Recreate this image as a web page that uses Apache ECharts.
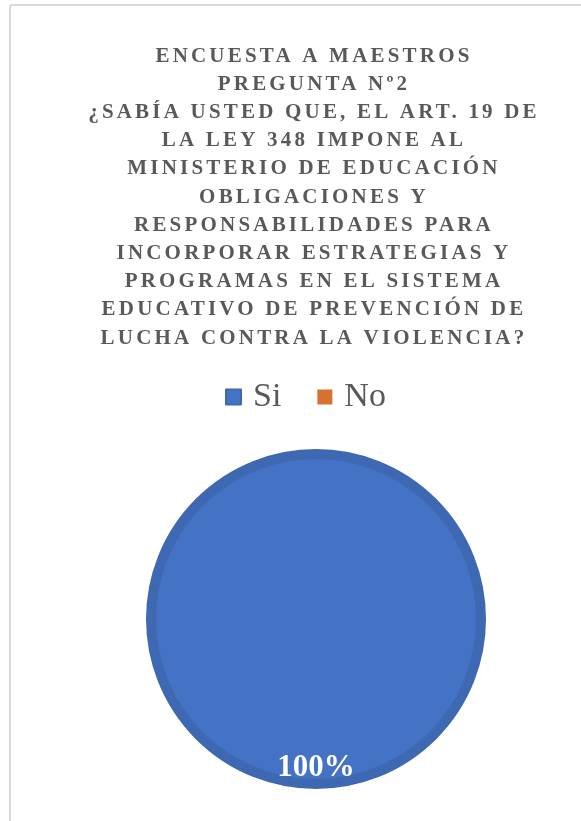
<!DOCTYPE html>
<html><head><meta charset="utf-8">
<script src="https://cdn.jsdelivr.net/npm/echarts@6/dist/echarts.min.js"></script>
<style>html,body{margin:0;padding:0;background:#fff}#c{width:581px;height:821px}</style>
</head><body><div id="c"></div>
<script>
const titleLines = [
  'ENCUESTA A MAESTROS',
  'PREGUNTA Nº2',
  '¿SABÍA USTED QUE, EL ART. 19 DE',
  'LA LEY 348 IMPONE AL',
  'MINISTERIO DE EDUCACIÓN',
  'OBLIGACIONES Y',
  'RESPONSABILIDADES PARA',
  'INCORPORAR ESTRATEGIAS Y',
  'PROGRAMAS EN EL SISTEMA',
  'EDUCATIVO DE PREVENCIÓN DE',
  'LUCHA CONTRA LA VIOLENCIA?'
];
const categories = ['Si', 'No'];
const values = [100, 0];
const colors = ['#4472c4', '#d7712f'];

// letter-spaced title lines, as in the original
const origFillText = CanvasRenderingContext2D.prototype.fillText;
CanvasRenderingContext2D.prototype.fillText = function (t, x, y, m) {
  if (titleLines.indexOf(t) >= 0 && 'letterSpacing' in this) {
    const prev = this.letterSpacing;
    this.letterSpacing = '3.2px';
    const r = m === undefined ? origFillText.call(this, t, x, y) : origFillText.call(this, t, x, y, m);
    this.letterSpacing = prev;
    return r;
  }
  return m === undefined ? origFillText.call(this, t, x, y) : origFillText.call(this, t, x, y, m);
};

const chart = echarts.init(document.getElementById('c'), null, {renderer: 'canvas'});
const serif = '"Liberation Serif", "Times New Roman", serif';
chart.setOption({
  animation: false,
  title: {
    text: titleLines.join('\n'),
    left: 309,
    top: 37,
    textAlign: 'center',
    textStyle: {fontFamily: serif, fontWeight: 'bold', fontSize: 21, lineHeight: 28.2, color: '#595959'}
  },
  graphic: [
    {type: 'line', shape: {x1: 10, y1: 5, x2: 581, y2: 5}, style: {stroke: '#d9d9d9', lineWidth: 2}},
    {type: 'line', shape: {x1: 10, y1: 5, x2: 10, y2: 821}, style: {stroke: '#d9d9d9', lineWidth: 2}}
  ],
  legend: {
    top: 375,
    left: 220,
    icon: 'rect',
    itemWidth: 15,
    itemHeight: 15,
    itemGap: 36,
    textStyle: {fontFamily: serif, fontSize: 34, color: '#595959', padding: [0, 0, 0, 7]},
    data: categories
  },
  series: [{
    type: 'pie',
    center: [316, 619],
    radius: 165,
    startAngle: 90,
    data: categories.map((n, i) => ({
      name: n, value: values[i],
      itemStyle: {color: colors[i], borderColor: i === 0 ? '#3e68b2' : colors[i], borderWidth: i === 0 ? 10 : 0}
    })),
    label: {
      show: true,
      position: 'inside',
      formatter: p => p.value > 0 ? p.percent + '%' : '',
      color: '#fff',
      fontFamily: serif,
      fontWeight: 'bold',
      fontSize: 31,
      offset: [0, 63]
    },
    labelLine: {show: false},
    emphasis: {disabled: true}
  }]
});
</script></body></html>
